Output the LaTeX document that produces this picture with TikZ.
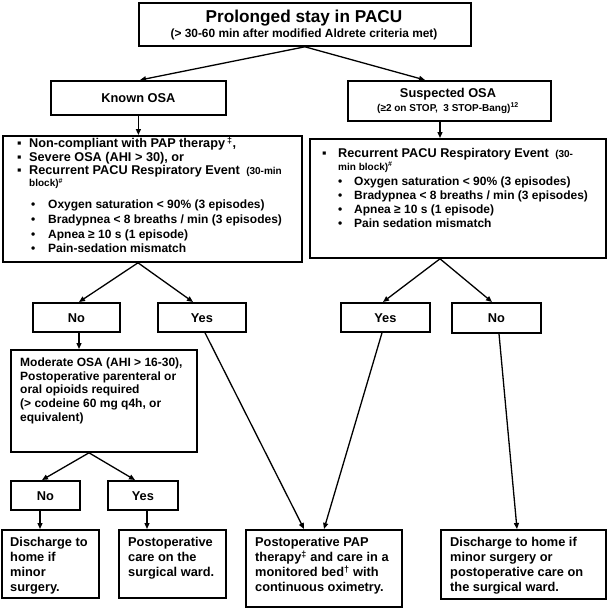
\documentclass[tikz,border=0pt]{standalone}
\usepackage{fontspec}
\setmainfont{Liberation Sans}
\usetikzlibrary{arrows.meta,calc}
\newcommand{\fs}[1]{\fontsize{#1}{#1}\selectfont}
\begin{document}
\begin{tikzpicture}[x=1pt,y=-1pt,
  box/.style={draw=black,line width=1.8pt,inner sep=0pt,anchor=north west},
  cbox/.style={box,align=center,font=\bfseries\fs{12.8},text height=9.2pt,text depth=0pt},
  arr/.style={line width=1.3pt,-{Triangle[length=6pt,width=5pt]}},
  ln/.style={anchor=base west,inner sep=0pt,font=\bfseries\fs{12.7}},
  sl/.style={anchor=base west,inner sep=0pt,font=\bfseries\fs{12}},
  bl/.style={anchor=base west,inner sep=0pt,font=\bfseries\fs{12.8}},
  sm/.style={anchor=base west,inner sep=0pt,font=\bfseries\fs{10}},
  ct/.style={anchor=base,inner sep=0pt}
]
\useasboundingbox (0,0) rectangle (607,608);
% boxes
\node[box,minimum width=332pt,minimum height=43pt] (top) at (138,2) {};
\node[cbox,minimum width=175pt,minimum height=34pt] (known) at (50,80) {Known OSA};
\node[box,minimum width=203pt,minimum height=40pt] (susp) at (347,80) {};
\node[box,minimum width=299pt,minimum height=126pt] (lbig) at (2,135) {};
\node[box,minimum width=296pt,minimum height=119pt] (rbig) at (309,138) {};
\node[cbox,minimum width=87pt,minimum height=29pt] (lno) at (32,302) {No};
\node[cbox,minimum width=88pt,minimum height=29pt] (lyes) at (157,302) {Yes};
\node[cbox,minimum width=89pt,minimum height=29pt] (ryes) at (340,302) {Yes};
\node[cbox,minimum width=89pt,minimum height=30pt] (rno) at (451,302) {No};
\node[box,minimum width=186pt,minimum height=102pt] (mod) at (10,349) {};
\node[cbox,minimum width=69pt,minimum height=29pt] (no2) at (10,480) {No};
\node[cbox,minimum width=70pt,minimum height=29pt] (yes2) at (107,480) {Yes};
\node[box,minimum width=97pt,minimum height=68pt] (d1) at (1,529) {};
\node[box,minimum width=107pt,minimum height=68pt] (post) at (118,529) {};
\node[box,minimum width=156pt,minimum height=77pt] (pap) at (245,529) {};
\node[box,minimum width=165pt,minimum height=69pt] (d2) at (440,529) {};
% top texts
\node[ct,font=\bfseries\fs{17.2}] (tt) at (304,22) {Prolonged stay in PACU};
\node[ct,font=\bfseries\fs{11.9}] (ts) at (304,37.3) {(> 30-60 min after modified Aldrete criteria met)};
\node[ct,font=\bfseries\fs{12.8}] (st) at (448,97.6) {Suspected OSA};
\node[ct,font=\bfseries\fs{10}] (ss) at (448,111.5) {(≥2 on STOP,\ \ 3 STOP-Bang)\textsuperscript{12}};
% left big box
\node[ln] (lb1) at (17,147.5) {▪};
\node[ln] (lt1) at (29,147.5) {Non-compliant with PAP therapy\,\textsuperscript{‡},};
\node[ln] (lb2) at (17,161.5) {▪};
\node[ln] (lt2) at (29,161.5) {Severe OSA (AHI > 30), or};
\node[ln] (lb3) at (17,174.5) {▪};
\node[ln] (lt3) at (29,174.5) {Recurrent PACU Respiratory Event {\fs{10} (30-min}};
\node[sm] (lt4) at (29,186.8) {block)\textsuperscript{\#}};
\node[sl] (ld5) at (31,208.3) {•};
\node[sl] (lt5) at (48,208.3) {Oxygen saturation < 90\% (3 episodes)};
\node[sl] (ld6) at (31,223.3) {•};
\node[sl] (lt6) at (48,223.3) {Bradypnea < 8 breaths / min (3 episodes)};
\node[sl] (ld7) at (31,238.3) {•};
\node[sl] (lt7) at (48,238.3) {Apnea ≥ 10 s (1 episode)};
\node[sl] (ld8) at (31,252.3) {•};
\node[sl] (lt8) at (48,252.3) {Pain-sedation mismatch};
% right big box
\node[ln] (rb1) at (322,157.5) {▪};
\node[ln] (rt1) at (338,157.5) {Recurrent PACU Respiratory Event {\fs{10} (30-}};
\node[sm] (rt2) at (338,170.6) {min block)\textsuperscript{\#}};
\node[sl] (rd3) at (338,185.3) {•};
\node[sl] (rt3) at (354,185.3) {Oxygen saturation < 90\% (3 episodes)};
\node[sl] (rd4) at (338,199.3) {•};
\node[sl] (rt4) at (354,199.3) {Bradypnea < 8 breaths / min (3 episodes)};
\node[sl] (rd5) at (338,213.3) {•};
\node[sl] (rt5) at (354,213.3) {Apnea ≥ 10 s (1 episode)};
\node[sl] (rd6) at (338,227.3) {•};
\node[sl] (rt6) at (354,227.3) {Pain sedation mismatch};
% moderate box
\node[sl] (m1) at (20,366.3) {Moderate OSA (AHI > 16-30),};
\node[sl] (m2) at (20,380.3) {Postoperative parenteral or};
\node[sl] (m3) at (20,393.3) {oral opioids required};
\node[sl] (m4) at (20,407.3) {(> codeine 60 mg q4h, or};
\node[sl] (m5) at (20,421.3) {equivalent)};
% bottom boxes
\node[bl] (a1) at (10,546.6) {Discharge to};
\node[bl] (a2) at (10,561.6) {home if};
\node[bl] (a3) at (10,576.6) {minor};
\node[bl] (a4) at (10,591.6) {surgery.};
\node[bl] (b1) at (128,546.6) {Postoperative};
\node[bl] (b2) at (128,561.6) {care on the};
\node[bl] (b3) at (128,576.6) {surgical ward.};
\node[bl] (c1) at (255,546.6) {Postoperative PAP};
\node[bl] (c2) at (255,561.6) {therapy\textsuperscript{‡} and care in a};
\node[bl] (c3) at (255,576.6) {monitored bed\textsuperscript{†} with};
\node[bl] (c4) at (255,591.6) {continuous oximetry.};
\node[bl] (e1) at (450,546.6) {Discharge to home if};
\node[bl] (e2) at (450,561.6) {minor surgery or};
\node[bl] (e3) at (450,576.6) {postoperative care on};
\node[bl] (e4) at (450,591.6) {the surgical ward.};
% connectors
\draw[arr] (top.south) -- ([xshift=90pt]known.north west);
\draw[arr] (top.south) -- ([xshift=78pt]susp.north west);
\draw[arr] (known.south) -- (known.south |- lbig.north);
\draw[arr] ([xshift=93pt]susp.south west) -- ([xshift=131pt]rbig.north west);
\draw[arr] ([xshift=136pt]lbig.south west) -- ([xshift=47pt]lno.north west);
\draw[arr] ([xshift=136pt]lbig.south west) -- ([xshift=36pt]lyes.north west);
\draw[arr] ([xshift=131pt]rbig.south west) -- ([xshift=43pt]ryes.north west);
\draw[arr] ([xshift=131pt]rbig.south west) -- ([xshift=41pt]rno.north west);
\draw[arr] ([xshift=47pt]lno.south west) -- ([xshift=69pt]mod.north west);
\draw[arr] ([xshift=48pt]lyes.south west) -- ([xshift=59pt]pap.north west);
\draw[arr] ([xshift=42pt]ryes.south west) -- ([xshift=79pt]pap.north west);
\draw[arr] ([xshift=48pt]rno.south west) -- ([xshift=77pt]d2.north west);
\draw[arr] ([xshift=79pt]mod.south west) -- ([xshift=32pt]no2.north west);
\draw[arr] ([xshift=79pt]mod.south west) -- ([xshift=28pt]yes2.north west);
\draw[arr] ([xshift=30pt]no2.south west) -- ([xshift=39pt]d1.north west);
\draw[arr] ([xshift=40pt]yes2.south west) -- ([xshift=29pt]post.north west);
\end{tikzpicture}
\end{document}
